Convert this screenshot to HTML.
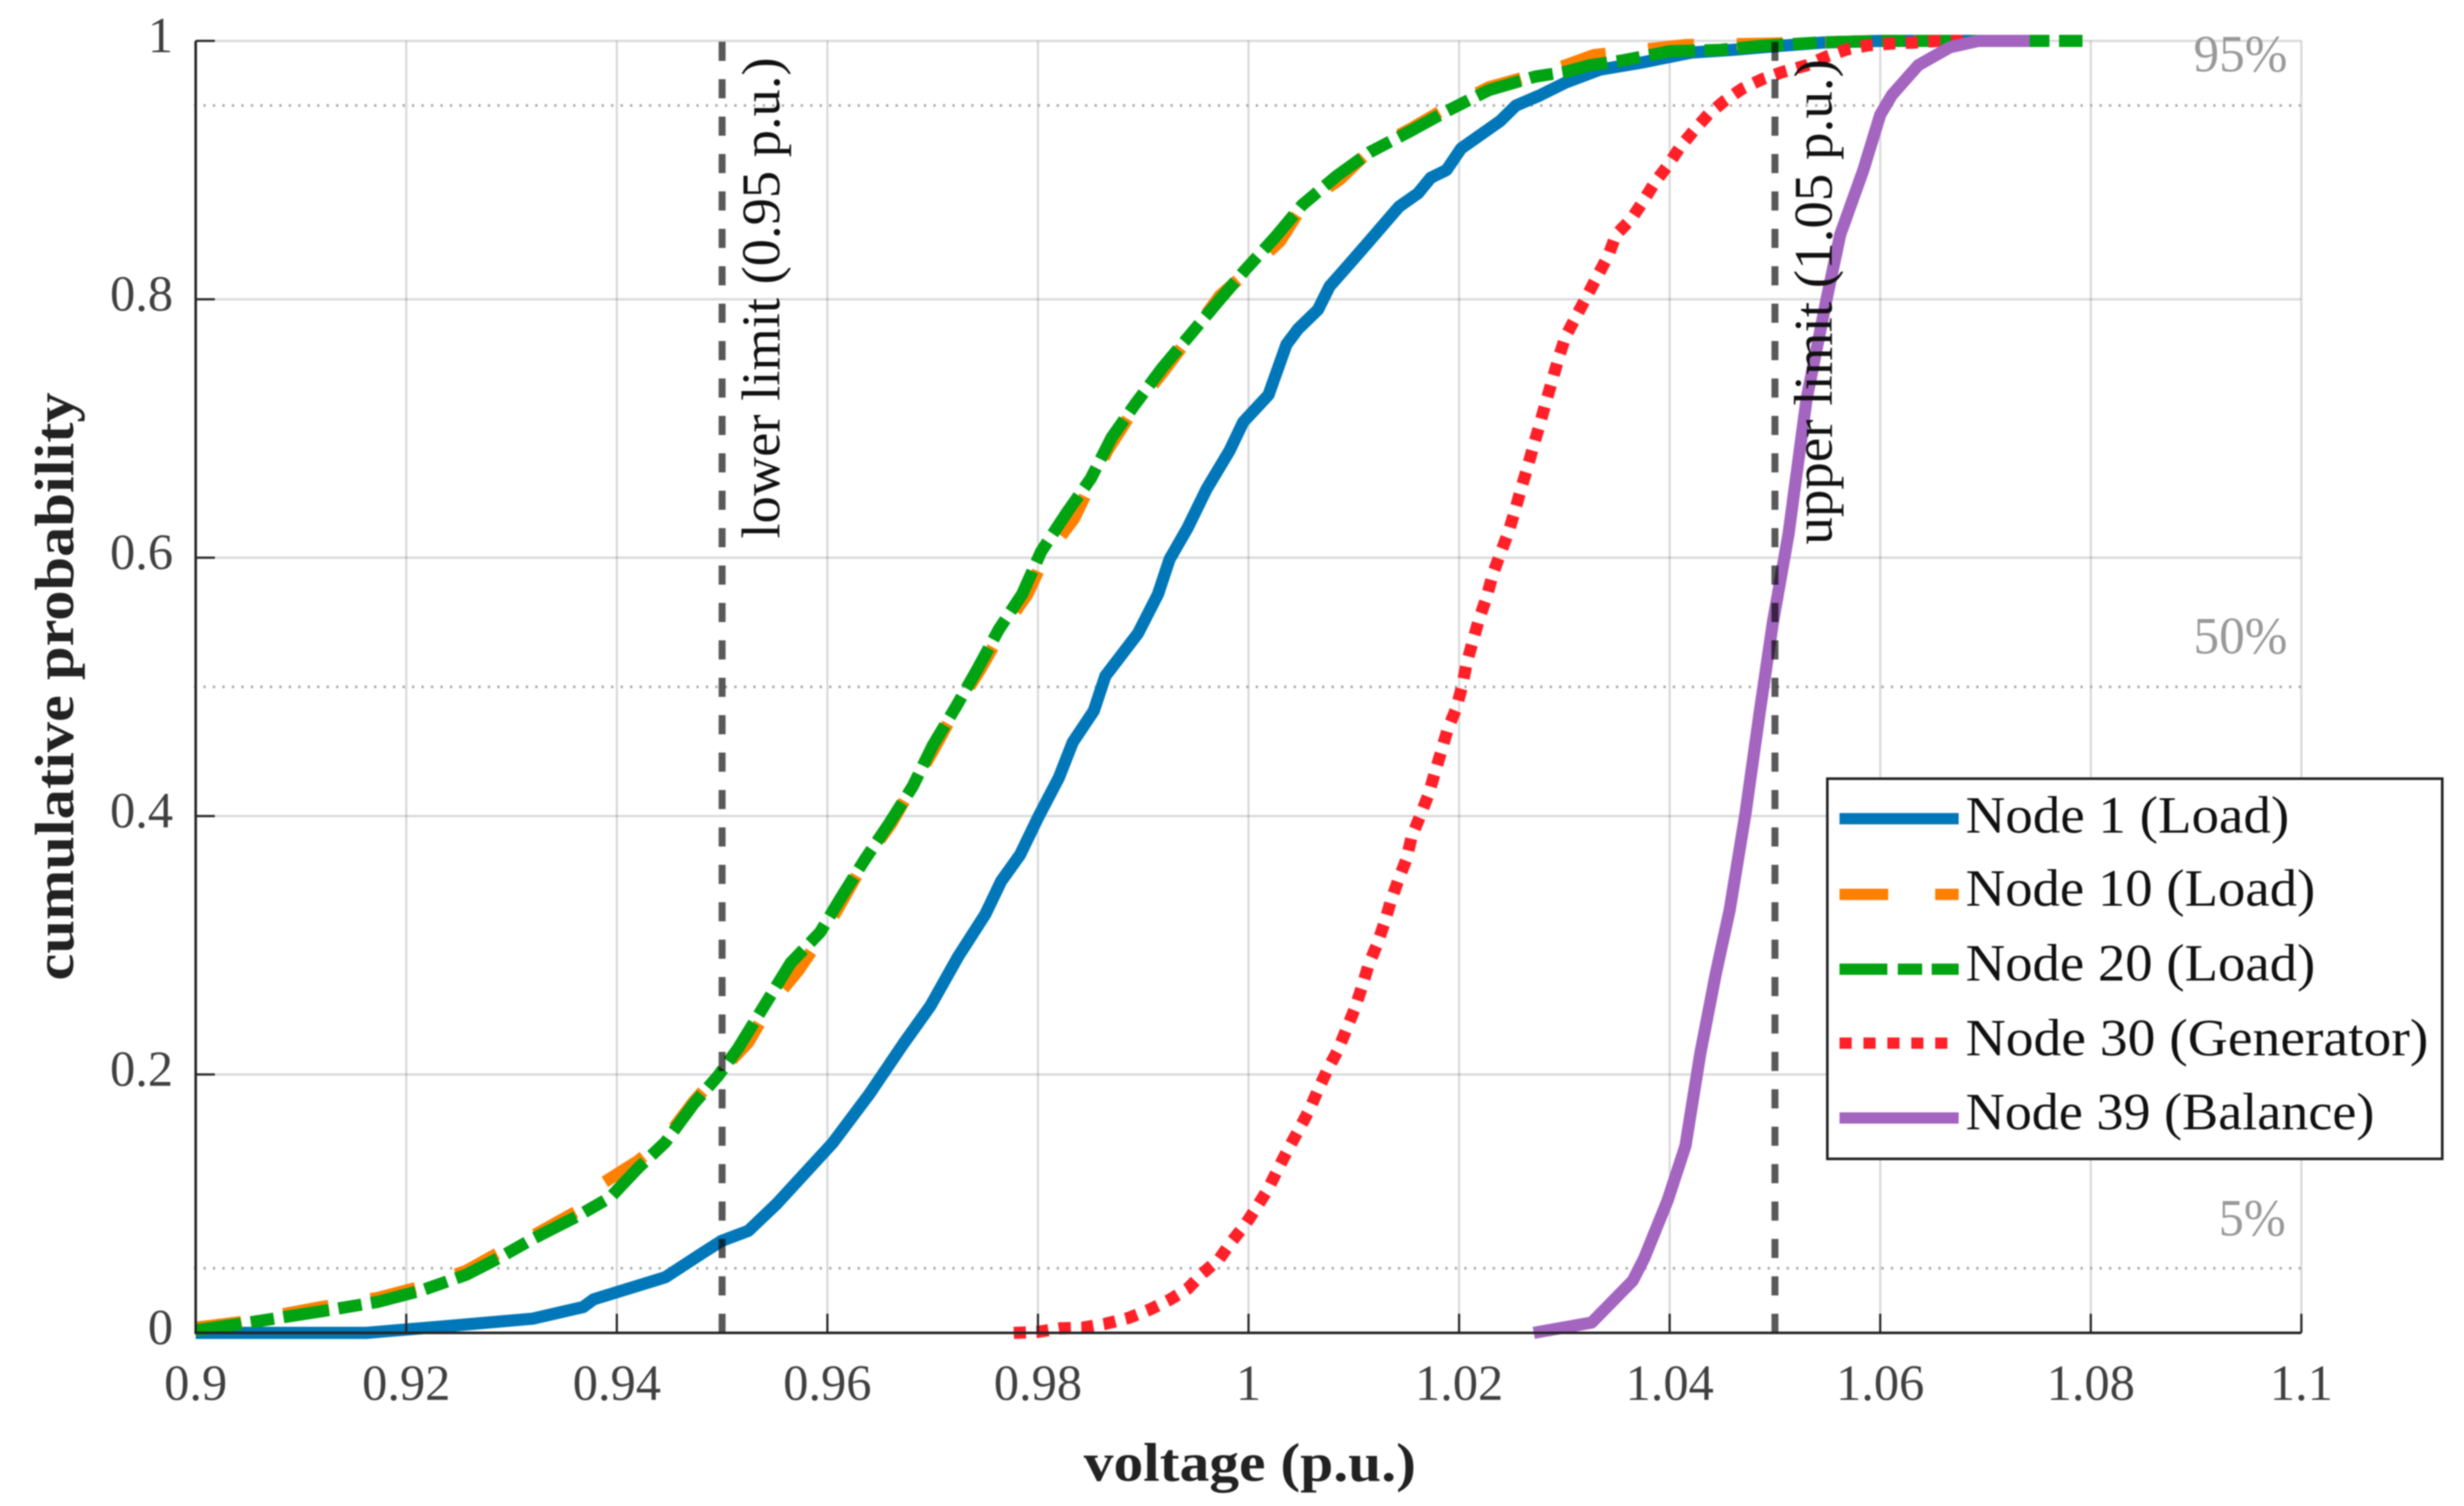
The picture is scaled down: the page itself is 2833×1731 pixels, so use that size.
<!DOCTYPE html>
<html>
<head>
<meta charset="utf-8">
<title>Cumulative probability of node voltage</title>
<style>
html,body{margin:0;padding:0;background:#fff;}
svg{display:block;filter:blur(0.7px);}
text{font-family:"Liberation Serif",serif;}
</style>
</head>
<body>
<svg id="chart" xmlns="http://www.w3.org/2000/svg" width="2833" height="1731" viewBox="0 0 2833 1731">
  <g id="grid"></g>
  <g id="refs"></g>
  <g id="series"></g>
  <g id="limits"></g>
  <g id="axes"></g>

  <text transform="translate(896,619) rotate(-90)" font-size="62" fill="#111" textLength="553" lengthAdjust="spacingAndGlyphs">lower limit (0.95 p.u.)</text>
  <text transform="translate(2106,626) rotate(-90)" font-size="62" fill="#111" textLength="558" lengthAdjust="spacingAndGlyphs">upper limit (1.05 p.u.)</text>

  <text x="2522" y="82" font-size="60" fill="#999" textLength="108" lengthAdjust="spacingAndGlyphs">95%</text>
  <text x="2522" y="751" font-size="60" fill="#999" textLength="108" lengthAdjust="spacingAndGlyphs">50%</text>
  <text x="2551" y="1420" font-size="60" fill="#999" textLength="77" lengthAdjust="spacingAndGlyphs">5%</text>

  <text x="1246" y="1702" font-size="62" font-weight="bold" fill="#222" textLength="382" lengthAdjust="spacingAndGlyphs">voltage (p.u.)</text>
  <text transform="translate(84,1127) rotate(-90)" font-size="64" font-weight="bold" fill="#222" textLength="676" lengthAdjust="spacingAndGlyphs">cumulative probability</text>

  <g>
    <rect x="2101" y="895" width="707" height="437" fill="#fff" stroke="#222" stroke-width="3"/>
    <g>
      <line x1="2115" x2="2252" y1="941" y2="941" stroke="#0077b8" stroke-width="13"/>
      <text x="2260" y="957" font-size="60" fill="#111" textLength="372" lengthAdjust="spacingAndGlyphs">Node 1 (Load)</text>
    </g>
    <g>
      <line x1="2115" x2="2252" y1="1028" y2="1028" stroke="#ff8000" stroke-width="13" stroke-dasharray="56 54"/>
      <text x="2260" y="1041" font-size="60" fill="#111" textLength="402" lengthAdjust="spacingAndGlyphs">Node 10 (Load)</text>
    </g>
    <g>
      <line x1="2115" x2="2252" y1="1114" y2="1114" stroke="#00a312" stroke-width="13" stroke-dasharray="55 12 28 11"/>
      <text x="2260" y="1127" font-size="60" fill="#111" textLength="402" lengthAdjust="spacingAndGlyphs">Node 20 (Load)</text>
    </g>
    <g>
      <line x1="2115" x2="2252" y1="1199" y2="1199" stroke="#ff2028" stroke-width="13" stroke-dasharray="14 13.5"/>
      <text x="2260" y="1213" font-size="60" fill="#111" textLength="532" lengthAdjust="spacingAndGlyphs">Node 30 (Generator)</text>
    </g>
    <g>
      <line x1="2115" x2="2252" y1="1285" y2="1285" stroke="#a365bf" stroke-width="13"/>
      <text x="2260" y="1298" font-size="60" fill="#111" textLength="470" lengthAdjust="spacingAndGlyphs">Node 39 (Balance)</text>
    </g>
  </g>
</svg>
<script>
var xTicks = [0.9,0.92,0.94,0.96,0.98,1,1.02,1.04,1.06,1.08,1.1];
var xTickLabels = ["0.9","0.92","0.94","0.96","0.98","1","1.02","1.04","1.06","1.08","1.1"];
var yTicks = [0,0.2,0.4,0.6,0.8,1];
var yTickLabels = ["0","0.2","0.4","0.6","0.8","1"];
var percentileLevels = [0.05,0.5,0.95];
var voltageLimits = [0.95,1.05];

var node1V = [0.9,0.9162,0.9235,0.932,0.9368,0.9378,0.9446,0.9478,0.9499,0.9525,0.9552,0.9578,0.9605,0.964,0.9672,0.9698,0.9724,0.975,0.9765,0.9783,0.98,0.982,0.9833,0.9853,0.9864,0.9895,0.9914,0.9925,0.9942,0.996,0.9982,0.9995,1.0019,1.0036,1.0047,1.0066,1.0077,1.0095,1.0114,1.0143,1.0161,1.0173,1.0188,1.0202,1.0239,1.0254,1.0276,1.0301,1.0334,1.0372,1.0421,1.0459,1.0503,1.0546,1.06,1.075];
var node1P = [0,0,0.005,0.011,0.02,0.026,0.043,0.06,0.071,0.079,0.1,0.123,0.147,0.185,0.2236,0.2532,0.291,0.324,0.3495,0.37,0.3987,0.43,0.457,0.4815,0.5084,0.5414,0.5717,0.5987,0.6229,0.6529,0.6828,0.705,0.726,0.765,0.777,0.792,0.81,0.8266,0.8444,0.8717,0.882,0.894,0.9,0.9168,0.938,0.95,0.9576,0.9677,0.9778,0.983,0.991,0.993,0.996,0.9987,1,1];

var node10V = [0.9,0.904,0.912,0.9173,0.9215,0.9257,0.9288,0.932,0.9362,0.9385,0.942,0.9446,0.9473,0.9496,0.9525,0.9546,0.9572,0.9597,0.9616,0.9636,0.9661,0.9681,0.9703,0.9723,0.9746,0.9767,0.979,0.9806,0.9834,0.9852,0.9866,0.9892,0.992,0.9945,0.9973,0.9997,1.003,1.0052,1.0087,1.0115,1.0154,1.0188,1.0228,1.0272,1.0301,1.0328,1.0415,1.05,1.06,1.08];
var node10P = [0.004,0.008,0.02,0.027,0.036,0.048,0.062,0.075,0.094,0.115,0.133,0.15,0.179,0.2,0.225,0.2545,0.28,0.31,0.337,0.3657,0.3946,0.423,0.4545,0.4845,0.5145,0.5447,0.5717,0.6,0.63,0.66,0.683,0.716,0.745,0.772,0.803,0.82,0.845,0.873,0.893,0.915,0.932,0.948,0.964,0.974,0.981,0.989,0.9968,0.998,1,1];

var node20V = [0.9,0.904,0.912,0.9173,0.9215,0.9257,0.9288,0.932,0.9362,0.9394,0.942,0.9446,0.9473,0.9496,0.9515,0.9541,0.9565,0.9593,0.9613,0.9635,0.9659,0.9681,0.97,0.9722,0.9743,0.9763,0.9785,0.9803,0.9828,0.985,0.987,0.9892,0.9918,0.9944,0.9974,0.9996,1.0025,1.0051,1.0084,1.0115,1.0154,1.0188,1.0228,1.0272,1.0301,1.0323,1.0356,1.04,1.0448,1.0486,1.054,1.0606,1.08];
var node20P = [0.002,0.0067,0.0168,0.024,0.033,0.045,0.058,0.0727,0.09,0.105,0.1275,0.1475,0.1774,0.1987,0.22,0.2545,0.2862,0.31,0.337,0.3657,0.3946,0.423,0.4545,0.4845,0.5145,0.5447,0.5717,0.6047,0.6356,0.661,0.693,0.7185,0.7468,0.772,0.801,0.822,0.8478,0.873,0.8956,0.9138,0.9303,0.9455,0.9618,0.9723,0.976,0.981,0.985,0.992,0.993,0.996,0.9987,1,1];

var node30V = [0.9777,0.9799,0.9821,0.9842,0.9864,0.9886,0.9906,0.9925,0.9942,0.9956,0.9972,0.9984,0.9997,1.0008,1.0019,1.0028,1.0038,1.0048,1.0058,1.0066,1.0075,1.0085,1.0093,1.0101,1.0108,1.0114,1.0122,1.0129,1.0135,1.0142,1.015,1.0155,1.0163,1.0171,1.0177,1.0183,1.0189,1.0197,1.0203,1.0207,1.0213,1.0219,1.0226,1.0232,1.0239,1.0247,1.0253,1.0259,1.0265,1.0271,1.0277,1.0283,1.0289,1.0295,1.0301,1.0312,1.0322,1.0332,1.0342,1.0349,1.0364,1.0375,1.0386,1.0399,1.041,1.0423,1.0437,1.0452,1.0469,1.0488,1.0507,1.053,1.0549,1.0568,1.0589,1.0611,1.0633,1.0655,1.0682];
var node30P = [0,0.0007,0.0035,0.004,0.007,0.0115,0.018,0.0256,0.034,0.0458,0.057,0.0707,0.084,0.0976,0.112,0.127,0.1427,0.1576,0.173,0.188,0.2037,0.2189,0.235,0.2512,0.2684,0.2848,0.3005,0.3172,0.3336,0.35,0.3667,0.3841,0.4,0.4168,0.4337,0.4498,0.4668,0.4828,0.5007,0.5178,0.5353,0.5525,0.569,0.5872,0.6027,0.62,0.6363,0.6538,0.67,0.6875,0.7044,0.722,0.7387,0.7559,0.771,0.788,0.8034,0.8189,0.8343,0.85,0.8626,0.8761,0.8906,0.9044,0.918,0.9306,0.9434,0.9535,0.963,0.9704,0.9758,0.9811,0.9879,0.9933,0.9966,0.998,0.9987,1,1];

var node39V = [1.0271,1.0326,1.0365,1.0376,1.0398,1.0415,1.0429,1.0444,1.0457,1.0472,1.0485,1.0498,1.0513,1.053,1.0549,1.0562,1.0584,1.06,1.0611,1.0636,1.0666,1.0693,1.0742];
var node39P = [0,0.008,0.0404,0.058,0.1024,0.1448,0.2157,0.2788,0.3273,0.402,0.4774,0.5495,0.6188,0.7226,0.8,0.85,0.9,0.9428,0.958,0.9811,0.995,1,1];

var NS = 'http://www.w3.org/2000/svg';
function xScale(v){ return 225 + (v - 0.9) * 12105; }
function yScale(p){ return 1532 - p * 1485; }
function make(tag, parent, attrs){
  var el = document.createElementNS(NS, tag);
  for (var k in attrs) el.setAttribute(k, attrs[k]);
  document.getElementById(parent).appendChild(el);
  return el;
}
var i, el;

for (i = 1; i < xTicks.length; i++) {
  el = make('line', 'grid', {x1:xScale(xTicks[i]), x2:xScale(xTicks[i]), y1:yScale(1), y2:yScale(0), stroke:'#000', 'stroke-opacity':0.15, 'stroke-width':2.5});
  
  
}
for (i = 1; i < yTicks.length; i++) {
  el = make('line', 'grid', {x1:xScale(0.9), x2:xScale(1.1), y1:yScale(yTicks[i]), y2:yScale(yTicks[i]), stroke:'#000', 'stroke-opacity':0.15, 'stroke-width':2.5});
  
  
}
for (i = 0; i < percentileLevels.length; i++) {
  el = make('line', 'refs', {x1:xScale(0.9)-2, x2:xScale(1.1), y1:yScale(percentileLevels[i]), y2:yScale(percentileLevels[i]), stroke:'#a8a8a8', 'stroke-width':3, 'stroke-dasharray':'2.6 8.3'});
  
  
}

function drawSeries(name, xs, ys, color, dash){
  var pts = [];
  for (var j = 0; j < xs.length; j++) pts.push(xScale(xs[j]).toFixed(1) + ',' + yScale(ys[j]).toFixed(1));
  var attrs = {points:pts.join(' '), fill:'none', stroke:color, 'stroke-width':14, 'stroke-linejoin':'round'};
  if (dash) attrs['stroke-dasharray'] = dash;
  var line = make('polyline', 'series', attrs);
  
  
}
drawSeries('series-node-1', node1V, node1P, '#0077b8', null);
drawSeries('series-node-10', node10V, node10P, '#ff8000', '53 49');
drawSeries('series-node-20', node20V, node20P, '#00a312', '53 11 27 11');
drawSeries('series-node-30', node30V, node30P, '#ff2028', '14 12');
drawSeries('series-node-39', node39V, node39P, '#a365bf', null);

for (i = 0; i < voltageLimits.length; i++) {
  el = make('line', 'limits', {x1:xScale(voltageLimits[i]), x2:xScale(voltageLimits[i]), y1:yScale(0), y2:yScale(1), stroke:'#000', 'stroke-opacity':0.65, 'stroke-width':8, 'stroke-dasharray':'22 21'});
  
  
}

el = make('line', 'axes', {x1:xScale(0.9), x2:xScale(1.1), y1:yScale(0), y2:yScale(0), stroke:'#262626', 'stroke-width':3});


el = make('line', 'axes', {x1:xScale(0.9), x2:xScale(0.9), y1:yScale(0)+1.5, y2:yScale(1), stroke:'#262626', 'stroke-width':3});



for (i = 0; i < xTicks.length; i++) {
  el = make('line', 'axes', {x1:xScale(xTicks[i]), x2:xScale(xTicks[i]), y1:yScale(0), y2:yScale(0)-22, stroke:'#262626', 'stroke-width':2.5});
  
  
  el = make('text', 'axes', {x:xScale(xTicks[i]), y:1609, 'text-anchor':'middle', 'font-size':58, fill:'#404040'});
  el.textContent = xTickLabels[i];
  
  
}
for (i = 0; i < yTicks.length; i++) {
  el = make('line', 'axes', {x1:xScale(0.9), x2:xScale(0.9)+22, y1:yScale(yTicks[i]), y2:yScale(yTicks[i]), stroke:'#262626', 'stroke-width':2.5});
  
  
  el = make('text', 'axes', {x:199, y:yScale(yTicks[i])+13, 'text-anchor':'end', 'font-size':58, fill:'#404040'});
  el.textContent = yTickLabels[i];
  
  
}
</script>
</body>
</html>
